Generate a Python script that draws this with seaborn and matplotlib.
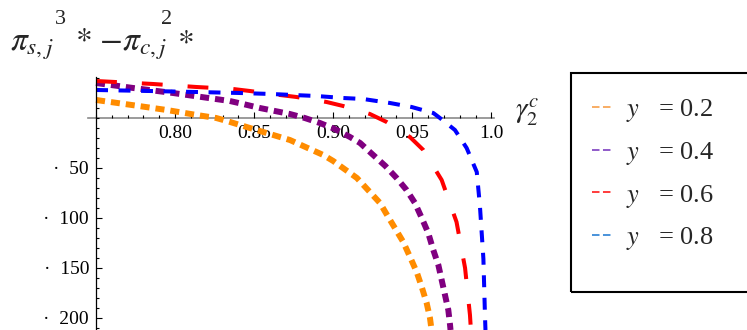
import matplotlib
matplotlib.use("Agg")
import matplotlib.pyplot as plt
import seaborn as sns
import pandas as pd
from matplotlib.lines import Line2D
from matplotlib.patches import Rectangle
from matplotlib.ticker import FixedLocator, MultipleLocator, FuncFormatter

# ---- data: difference of profits versus gamma_2^c for four values of y ----
y_levels = ["0.2", "0.4", "0.6", "0.8"]

gamma_y02 = [0.750, 0.7726, 0.7947, 0.8137, 0.826, 0.8327, 0.8515, 0.8726, 0.8937,
             0.900, 0.915, 0.9296, 0.9348, 0.939, 0.9443, 0.9486, 0.9528, 0.956,
             0.9591, 0.9612, 0.9622]
diff_y02 = [18, 13, 8, 3, 0, -3, -12, -22, -37, -43, -60, -85, -99, -110, -124, -139,
            -154, -169, -185, -200, -212]

gamma_y04 = [0.750, 0.7735, 0.7987, 0.8346, 0.843, 0.8536, 0.8631, 0.8726, 0.882,
             0.8916, 0.901, 0.9106, 0.917, 0.9246, 0.933, 0.9401, 0.9464, 0.9517,
             0.956, 0.9601, 0.9633, 0.9665, 0.9686, 0.9707, 0.9728, 0.9739, 0.9742]
diff_y04 = [35, 30, 25, 17, 14, 10, 7, 4, 0, -5, -11, -19, -25, -36, -48, -60, -72,
            -85, -100, -115, -132, -147, -162, -177, -192, -207, -212]

gamma_y06 = [0.750, 0.7862, 0.8135, 0.8367, 0.8473, 0.8663, 0.8768, 0.8958, 0.9063,
             0.9232, 0.9338, 0.9485, 0.957, 0.9686, 0.978, 0.9834, 0.9865, 0.9871]
diff_y06 = [37, 34, 31, 29, 27, 23, 21, 16, 12, 4, -4, -19, -32, -62, -104, -150, -197, -212]

gamma_y08 = [0.750, 0.784, 0.8135, 0.841, 0.861, 0.8747, 0.8895, 0.9063, 0.919, 0.9359,
             0.9496, 0.9633, 0.9675, 0.977, 0.9844, 0.9908, 0.9928, 0.995, 0.996, 0.9963]
diff_y08 = [28, 27, 26, 25, 24, 23, 22, 20, 19, 15, 11, 5, 0, -12, -30, -54, -88, -141,
            -198, -212]

x_ticks = [0.80, 0.85, 0.90, 0.95, 1.0]
x_tick_labels = ["0.80", "0.85", "0.90", "0.95", "1.0"]
y_ticks = [-200, -150, -100, -50]

series = [
    (gamma_y02, diff_y02),
    (gamma_y04, diff_y04),
    (gamma_y06, diff_y06),
    (gamma_y08, diff_y08),
]

frames = []
for lev, (gx, dv) in zip(y_levels, series):
    frames.append(pd.DataFrame({"gamma": gx, "diff": dv, "y": lev}))
df = pd.concat(frames, ignore_index=True)

# ---- styling ----
sns.set_theme(style="white")
plt.rcParams["font.family"] = ["Liberation Serif", "DejaVu Serif"]
plt.rcParams["mathtext.fontset"] = "stix"
plt.rcParams["lines.scale_dashes"] = False

line_style = {
    "0.2": dict(color="#FF8C00", lw=4.3, dashes=(6.5, 4.3)),
    "0.4": dict(color="#800080", lw=4.3, dashes=(6.5, 4.3)),
    "0.6": dict(color="#FF0000", lw=2.9, dashes=(15.0, 18.0)),
    "0.8": dict(color="#0000FF", lw=2.9, dashes=(8.6, 7.6)),
}
legend_color = {"0.2": "#F7A04A", "0.4": "#7D3EC0", "0.6": "#FF1A1A", "0.8": "#2A80D4"}

W, H = 747, 330
fig = plt.figure(figsize=(W / 100, H / 100), dpi=100)
ax = fig.add_axes([88 / W, 0, 406 / W, 253 / H])

for lev in y_levels:
    st = line_style[lev]
    sub = df[df["y"] == lev]
    sns.lineplot(data=sub, x="gamma", y="diff", ax=ax, color=st["color"],
                 lw=st["lw"], sort=False, estimator=None)
    ln = ax.lines[-1]
    ln.set_dashes(st["dashes"])
    ln.set_dash_capstyle("butt")

ax.set_xlim(0.7449, 1.0017)
ax.set_ylim(-212, 41)
ax.set_xlabel("")
ax.set_ylabel("")
ax.set_facecolor("white")

for s in ("top", "right"):
    ax.spines[s].set_visible(False)
ax.spines["left"].set_position(("data", 0.75))
ax.spines["bottom"].set_position(("data", 0))
ax.spines["left"].set_color("black")
ax.spines["left"].set_linewidth(0.9)
ax.spines["bottom"].set_color("#8a8a8a")
ax.spines["bottom"].set_linewidth(1.2)
ax.spines["bottom"].set_zorder(0.5)

ax.xaxis.set_major_locator(FixedLocator(x_ticks))
ax.set_xticklabels(x_tick_labels)
ax.xaxis.set_minor_locator(MultipleLocator(0.01))
ax.yaxis.set_major_locator(FixedLocator(y_ticks))
ax.yaxis.set_minor_locator(MultipleLocator(10))
ax.yaxis.set_major_formatter(FuncFormatter(lambda v, p: f"\u00b7  {abs(int(round(v)))}"))

ax.tick_params(axis="both", which="both", direction="in", color="black",
               labelcolor="black", labelsize=14)
ax.tick_params(axis="both", which="major", length=4, width=0.8)
ax.tick_params(axis="both", which="minor", length=2.5, width=0.8)
ax.tick_params(axis="x", which="both", bottom=True, top=False, pad=5)
ax.tick_params(axis="y", which="both", left=True, right=False, pad=5)

# axis titles
fig.text(515 / W, 1 - 112 / H, r"$\gamma_2^c$", fontsize=21, va="center", ha="left")

# vertical-axis title, set Mathematica-style with the powers after the subscripts
base_y = 1 - 50 / H
sup_y = 1 - 24 / H
fig.text(10 / W, base_y, r"$\pi_{s,j}$", fontsize=24, va="baseline", ha="left")
fig.text(55 / W, sup_y, "3", fontsize=16, va="baseline", ha="left")
fig.text(75 / W, base_y, r"$*\ {-}\pi_{c,j}$", fontsize=24, va="baseline", ha="left")
fig.text(161 / W, sup_y, "2", fontsize=16, va="baseline", ha="left")
fig.text(177 / W, base_y, r"$*$", fontsize=24, va="baseline", ha="left")

# legend box and entries
fig.add_artist(Rectangle((571 / W, (H - 292) / H), 200 / W, 219 / H,
                         transform=fig.transFigure, fill=False, ec="black", lw=1.5))
handles = [Line2D([], [], color=legend_color[lev], lw=1.2, dashes=(5.4, 2.5))
           for lev in y_levels]
labels = [f"$y$   = {lev}" for lev in y_levels]
fig.legend(handles, labels, loc="upper left", bbox_to_anchor=(592 / W, 1 - 97 / H),
           frameon=False, fontsize=19, handlelength=0.72, handletextpad=0.55,
           labelspacing=0.6, borderpad=0, borderaxespad=0)

fig.savefig("out.png", dpi=100, facecolor="white")
